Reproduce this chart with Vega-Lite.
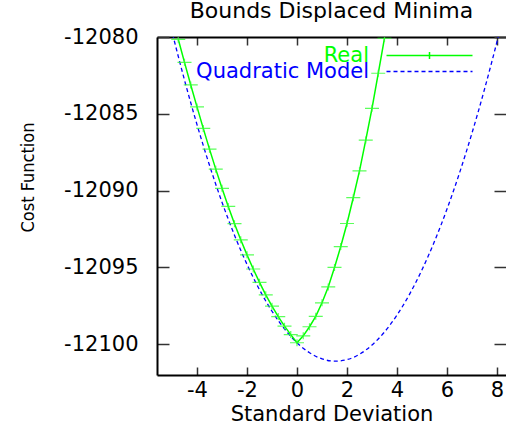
{
  "$schema": "https://vega.github.io/schema/vega-lite/v6.json",
  "autosize": {"type": "none"},
  "padding": {"left": 157, "top": 37, "right": 0, "bottom": 50},
  "width": 349,
  "height": 338,
  "background": "white",
  "config": {
    "view": {"stroke": null},
    "axis": {
      "labelFont": "DejaVu Sans",
      "labelFontSize": 21,
      "labelColor": "black",
      "titleFont": "DejaVu Sans",
      "titleFontSize": 21,
      "titleFontWeight": "normal",
      "titleColor": "black",
      "grid": false,
      "domainColor": "black",
      "domainWidth": 2,
      "tickColor": "#333333",
      "tickWidth": 1.5
    },
    "legend": {
      "title": null,
      "orient": "none",
      "labelFont": "DejaVu Sans",
      "labelFontSize": 21,
      "labelAlign": "right",
      "labelOffset": -71,
      "labelLimit": 400,
      "symbolSize": 16
    }
  },
  "title": {
    "text": "Bounds Displaced Minima",
    "anchor": "middle",
    "font": "DejaVu Sans",
    "fontSize": 22,
    "fontWeight": "normal",
    "color": "black",
    "baseline": "alphabetic",
    "offset": 6,
    "dy": 20
  },
  "datasets": {
    "real": [
      {"series": "Real", "x": -4.75, "y": -12080.15},
      {"series": "Real", "x": -4.5, "y": -12081.65},
      {"series": "Real", "x": -4.25, "y": -12083.12},
      {"series": "Real", "x": -4.0, "y": -12084.55},
      {"series": "Real", "x": -3.75, "y": -12085.95},
      {"series": "Real", "x": -3.5, "y": -12087.3},
      {"series": "Real", "x": -3.25, "y": -12088.6},
      {"series": "Real", "x": -3.0, "y": -12089.85},
      {"series": "Real", "x": -2.75, "y": -12091.03},
      {"series": "Real", "x": -2.5, "y": -12092.15},
      {"series": "Real", "x": -2.25, "y": -12093.2},
      {"series": "Real", "x": -2.0, "y": -12094.18},
      {"series": "Real", "x": -1.75, "y": -12095.1},
      {"series": "Real", "x": -1.5, "y": -12095.97},
      {"series": "Real", "x": -1.25, "y": -12096.78},
      {"series": "Real", "x": -1.0, "y": -12097.52},
      {"series": "Real", "x": -0.75, "y": -12098.2},
      {"series": "Real", "x": -0.5, "y": -12098.82},
      {"series": "Real", "x": -0.25, "y": -12099.37},
      {"series": "Real", "x": 0.0, "y": -12099.9},
      {"series": "Real", "x": 0.25, "y": -12099.45},
      {"series": "Real", "x": 0.5, "y": -12098.86},
      {"series": "Real", "x": 0.75, "y": -12098.18},
      {"series": "Real", "x": 1.0, "y": -12097.3},
      {"series": "Real", "x": 1.25, "y": -12096.27},
      {"series": "Real", "x": 1.5, "y": -12095.0},
      {"series": "Real", "x": 1.75, "y": -12093.64},
      {"series": "Real", "x": 2.0, "y": -12092.14},
      {"series": "Real", "x": 2.25, "y": -12090.46},
      {"series": "Real", "x": 2.5, "y": -12088.71},
      {"series": "Real", "x": 2.75, "y": -12086.71},
      {"series": "Real", "x": 3.0, "y": -12084.64},
      {"series": "Real", "x": 3.25, "y": -12082.36},
      {"series": "Real", "x": 3.5, "y": -12080.08}
    ],
    "model": [
      {"series": "Quadratic Model", "x": -5.5, "y": -12076.25},
      {"series": "Quadratic Model", "x": -5.0, "y": -12079.65},
      {"series": "Quadratic Model", "x": -4.5, "y": -12082.8},
      {"series": "Quadratic Model", "x": -4.0, "y": -12085.7},
      {"series": "Quadratic Model", "x": -3.5, "y": -12088.35},
      {"series": "Quadratic Model", "x": -3.0, "y": -12090.75},
      {"series": "Quadratic Model", "x": -2.5, "y": -12092.9},
      {"series": "Quadratic Model", "x": -2.0, "y": -12094.8},
      {"series": "Quadratic Model", "x": -1.5, "y": -12096.45},
      {"series": "Quadratic Model", "x": -1.0, "y": -12097.85},
      {"series": "Quadratic Model", "x": -0.5, "y": -12099.0},
      {"series": "Quadratic Model", "x": 0.0, "y": -12099.9},
      {"series": "Quadratic Model", "x": 0.5, "y": -12100.55},
      {"series": "Quadratic Model", "x": 1.0, "y": -12100.95},
      {"series": "Quadratic Model", "x": 1.5, "y": -12101.1},
      {"series": "Quadratic Model", "x": 2.0, "y": -12101.0},
      {"series": "Quadratic Model", "x": 2.5, "y": -12100.65},
      {"series": "Quadratic Model", "x": 3.0, "y": -12100.05},
      {"series": "Quadratic Model", "x": 3.5, "y": -12099.2},
      {"series": "Quadratic Model", "x": 4.0, "y": -12098.1},
      {"series": "Quadratic Model", "x": 4.5, "y": -12096.75},
      {"series": "Quadratic Model", "x": 5.0, "y": -12095.15},
      {"series": "Quadratic Model", "x": 5.5, "y": -12093.3},
      {"series": "Quadratic Model", "x": 6.0, "y": -12091.2},
      {"series": "Quadratic Model", "x": 6.5, "y": -12088.85},
      {"series": "Quadratic Model", "x": 7.0, "y": -12086.25},
      {"series": "Quadratic Model", "x": 7.5, "y": -12083.4},
      {"series": "Quadratic Model", "x": 8.0, "y": -12080.3},
      {"series": "Quadratic Model", "x": 8.5, "y": -12076.95}
    ]
  },
  "layer": [
    {
      "data": {"name": "model"},
      "mark": {"type": "line", "clip": true, "strokeWidth": 1.3, "interpolate": "monotone"},
      "encoding": {
        "x": {
          "field": "x", "type": "quantitative",
          "scale": {"domain": [-5.6, 8.36], "nice": false, "zero": false},
          "axis": {"orient": "bottom", "values": [-4, -2, 0, 2, 4, 6, 8], "labelExpr": "'' + datum.value", "tickSize": -8, "labelPadding": 12, "title": "Standard Deviation", "titleY": 45, "titleBaseline": "alphabetic"}
        },
        "y": {
          "field": "y", "type": "quantitative",
          "scale": {"domain": [-12102, -12080], "nice": false, "zero": false},
          "axis": {"orient": "left", "values": [-12100, -12095, -12090, -12085, -12080], "labelExpr": "'' + datum.value", "tickSize": -12, "labelPadding": 31, "title": "Cost Function", "titleFont": "Liberation Sans Narrow, DejaVu Sans Condensed, Liberation Sans", "titleFontSize": 18, "titleX": -124, "titleY": 140, "titleBaseline": "alphabetic", "titleAngle": -90}
        },
        "stroke": {
          "field": "series", "type": "nominal",
          "scale": {"domain": ["Quadratic Model"], "range": ["#0000ff"]},
          "legend": {
            "legendX": 262,
            "legendY": 24,
            "symbolType": "M-21.5,0L21.5,0",
            "symbolStrokeWidth": 1.5,
            "labelColor": "#0000ff"
          }
        },
        "strokeDash": {
          "field": "series", "type": "nominal",
          "scale": {"domain": ["Quadratic Model"], "range": [[4, 3]]},
          "legend": {
            "legendX": 262,
            "legendY": 24,
            "symbolType": "M-21.5,0L21.5,0",
            "symbolStrokeWidth": 1.5,
            "labelColor": "#0000ff"
          }
        }
      }
    },
    {
      "data": {"name": "real"},
      "mark": {"type": "line", "clip": true, "strokeWidth": 1.5},
      "encoding": {
        "x": {"field": "x", "type": "quantitative", "axis": null},
        "y": {"field": "y", "type": "quantitative", "axis": null},
        "color": {
          "field": "series", "type": "nominal",
          "scale": {"domain": ["Real"], "range": ["#00ff00"]},
          "legend": {
            "legendX": 262,
            "legendY": 8,
            "symbolType": "M-21.5,0L21.5,0M0,-1.75L0,1.75",
            "symbolStrokeWidth": 1.5,
            "labelColor": "#00ff00"
          }
        }
      }
    },
    {
      "data": {"name": "real"},
      "mark": {"type": "point", "clip": true, "shape": "M-1,0L1,0M0,-0.5L0,0.5", "size": 196, "filled": false, "color": "#33ff33", "strokeWidth": 1.2, "opacity": 0.8},
      "encoding": {
        "x": {"field": "x", "type": "quantitative", "axis": {"orient": "top", "values": [-4, -2, 0, 2, 4, 6, 8], "tickSize": -8, "labels": false, "title": null, "minExtent": 0, "maxExtent": 0}},
        "y": {"field": "y", "type": "quantitative", "axis": {"orient": "right", "values": [-12100, -12095, -12090, -12085, -12080], "tickSize": -12, "labels": false, "title": null, "domain": false, "minExtent": 0, "maxExtent": 0}}
      }
    }
  ]
}
